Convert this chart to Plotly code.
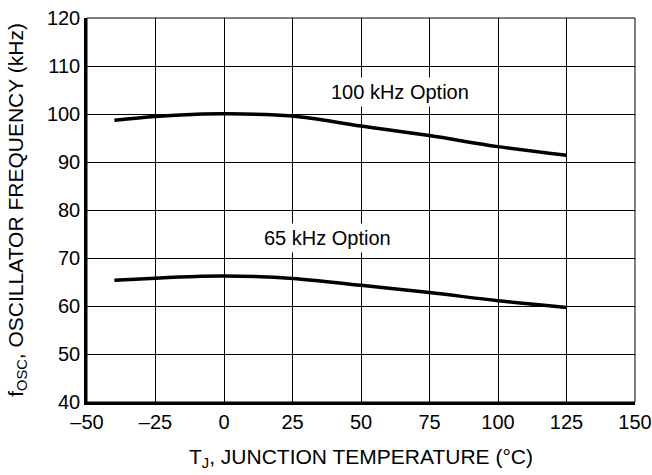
import plotly.graph_objects as go

# Junction temperature (°C) sample points
temp_c = [-40, -25, -10, 0, 25, 50, 75, 100, 125]

# Oscillator frequency (kHz) for each option
freq_100k = [98.7, 99.5, 99.95, 100.05, 99.6, 97.5, 95.5, 93.2, 91.4]
freq_65k = [65.35, 65.8, 66.15, 66.25, 65.75, 64.3, 62.8, 61.1, 59.7]

x_ticks = [-50, -25, 0, 25, 50, 75, 100, 125, 150]
x_ticktext = ["–50", "–25", "0", "25", "50", "75", "100", "125", "150"]
y_ticks = [40, 50, 60, 70, 80, 90, 100, 110, 120]

FONT = "Liberation Sans, Arial, Helvetica, sans-serif"

fig = go.Figure()
for ys in (freq_100k, freq_65k):
    fig.add_trace(go.Scatter(
        x=temp_c, y=ys, mode="lines",
        line=dict(color="black", width=3.5, shape="spline", smoothing=1.0),
        showlegend=False, hoverinfo="skip",
    ))

fig.add_annotation(x=64.2, y=104.6, text="100 kHz Option", showarrow=False,
                   font=dict(family=FONT, size=20, color="black"),
                   bgcolor="white", borderpad=3)
fig.add_annotation(x=37.7, y=74.2, text="65 kHz Option", showarrow=False,
                   font=dict(family=FONT, size=20, color="black"),
                   bgcolor="white", borderpad=3)

# thin frame on top/right
fig.add_shape(type="rect", xref="paper", yref="paper", x0=0, y0=0, x1=1, y1=1,
              line=dict(color="black", width=1), layer="below")

fig.update_layout(
    width=652, height=475,
    margin=dict(l=87, r=17, t=18, b=73),
    paper_bgcolor="white", plot_bgcolor="white",
    font=dict(family=FONT, size=20, color="black"),
)
fig.update_xaxes(
    range=[-50, 150], tickvals=x_ticks, ticktext=x_ticktext,
    showgrid=True, gridcolor="black", gridwidth=1, zeroline=False,
    showline=True, linecolor="black", linewidth=2.5, ticks="",
    tickfont=dict(size=20), automargin=False,
    title=dict(text="T<sub>J</sub>, JUNCTION TEMPERATURE (°C)", font=dict(size=21), standoff=18),
)
fig.update_yaxes(
    range=[40, 120], tickvals=y_ticks,
    showgrid=True, gridcolor="black", gridwidth=1, zeroline=False,
    showline=True, linecolor="black", linewidth=2.5, ticks="",
    tickfont=dict(size=20), automargin=False,
    title=dict(text="f<sub>OSC</sub>, OSCILLATOR FREQUENCY (kHz)", font=dict(size=21), standoff=18),
)

fig.write_html("out.html")
